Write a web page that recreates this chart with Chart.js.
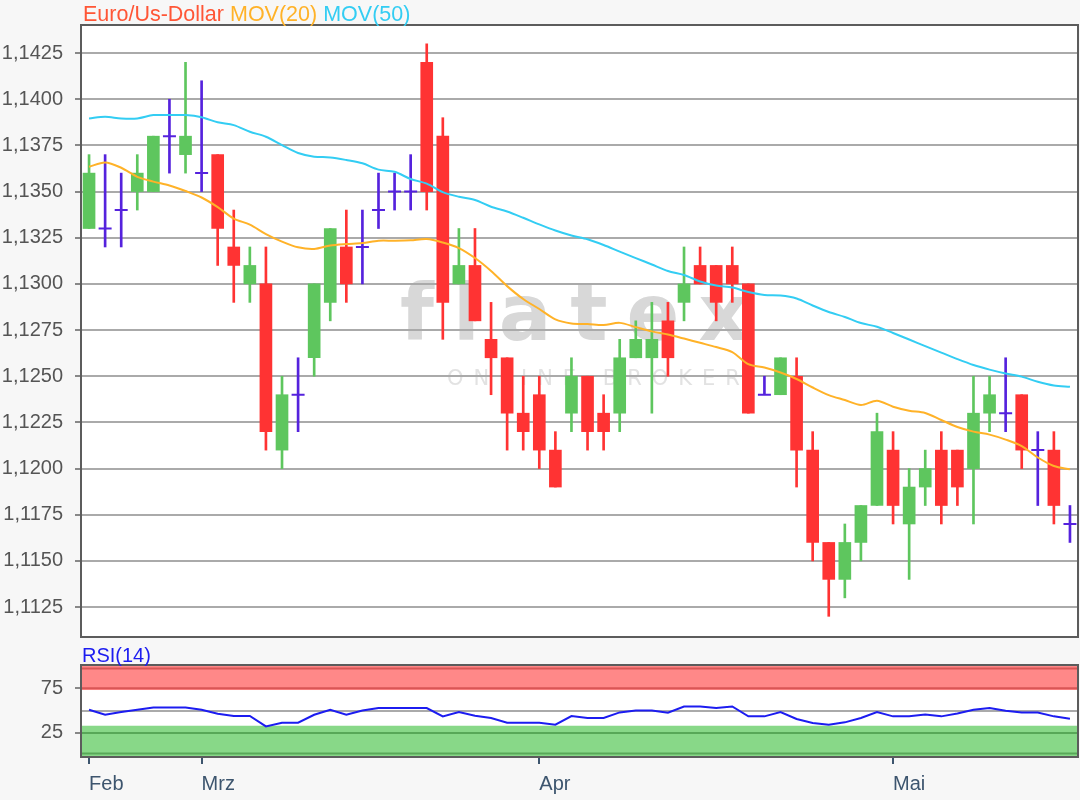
<!DOCTYPE html>
<html>
<head>
<meta charset="utf-8">
<script src="https://cdn.jsdelivr.net/npm/chart.js@4"></script>
<style>
  body { margin: 0; background: #f7f7f7; font-family: 'Liberation Sans', Arial, sans-serif; }
  #wrap { position: relative; width: 1080px; height: 800px; overflow: hidden; }
  #main { position: absolute; left: 0; top: 0; }
  #rsi { position: absolute; left: 0; top: 645px; }
  #title { position: absolute; left: 83px; top: 2px; font-size: 21.5px; line-height: 24px; white-space: nowrap; }
  #rsiTitle { position: absolute; left: 82px; top: 643px; font-size: 20px; line-height: 24px; color: #1c1cf0; }
</style>
</head>
<body>
<div id="wrap">
  <canvas id="main" width="1080" height="640"></canvas>
  <canvas id="rsi" width="1080" height="155"></canvas>
  <div id="title"><span style="color:#ff5636">Euro/Us-Dollar</span> <span style="color:#ffb228">MOV(20)</span> <span style="color:#33cdf3">MOV(50)</span></div>
  <div id="rsiTitle">RSI(14)</div>
</div>
<script>
// trading days, 20.02.2019 - 16.05.2019
const days = [
  "20.02.","21.02.","22.02.","25.02.","26.02.","27.02.","28.02.",
  "01.03.","04.03.","05.03.","06.03.","07.03.","08.03.","11.03.","12.03.","13.03.","14.03.","15.03.",
  "18.03.","19.03.","20.03.","21.03.","22.03.","25.03.","26.03.","27.03.","28.03.","29.03.",
  "01.04.","02.04.","03.04.","04.04.","05.04.","08.04.","09.04.","10.04.","11.04.","12.04.",
  "15.04.","16.04.","17.04.","18.04.","19.04.","22.04.","23.04.","24.04.","25.04.","26.04.","29.04.","30.04.",
  "01.05.","02.05.","03.05.","06.05.","07.05.","08.05.","09.05.","10.05.","13.05.","14.05.","15.05.","16.05."
];
const monthIdx = [0, 7, 28, 50];
const monthNames = ["Feb", "Mrz", "Apr", "Mai"];

const opens = [1.1330,1.1330,1.1340,1.1350,1.1350,1.1380,1.1370,1.1360,1.1370,1.1320,
  1.1300,1.1300,1.1210,1.1240,1.1260,1.1290,1.1320,1.1320,1.1340,1.1350,
  1.1350,1.1420,1.1380,1.1300,1.1310,1.1270,1.1260,1.1230,1.1240,1.1210,
  1.1230,1.1250,1.1230,1.1230,1.1260,1.1260,1.1280,1.1290,1.1310,1.1310,
  1.1310,1.1300,1.1240,1.1240,1.1250,1.1210,1.1160,1.1140,1.1160,1.1180,
  1.1210,1.1170,1.1190,1.1210,1.1210,1.1200,1.1230,1.1230,1.1240,1.1210,
  1.1210,1.1170];
const highs = [1.1370,1.1370,1.1360,1.1370,1.1380,1.1400,1.1420,1.1410,1.1370,1.1340,
  1.1320,1.1320,1.1250,1.1260,1.1300,1.1330,1.1340,1.1340,1.1360,1.1360,
  1.1370,1.1430,1.1390,1.1330,1.1330,1.1290,1.1260,1.1250,1.1250,1.1220,
  1.1260,1.1250,1.1240,1.1270,1.1280,1.1290,1.1290,1.1320,1.1320,1.1310,
  1.1320,1.1300,1.1250,1.1260,1.1260,1.1220,1.1160,1.1170,1.1180,1.1230,
  1.1220,1.1200,1.1210,1.1220,1.1210,1.1250,1.1250,1.1260,1.1240,1.1220,
  1.1220,1.1180];
const lows = [1.1330,1.1320,1.1320,1.1340,1.1350,1.1360,1.1360,1.1350,1.1310,1.1290,
  1.1290,1.1210,1.1200,1.1220,1.1250,1.1280,1.1290,1.1300,1.1330,1.1340,
  1.1340,1.1340,1.1270,1.1300,1.1280,1.1240,1.1210,1.1210,1.1200,1.1190,
  1.1220,1.1210,1.1210,1.1220,1.1260,1.1230,1.1250,1.1280,1.1300,1.1280,
  1.1290,1.1230,1.1240,1.1240,1.1190,1.1150,1.1120,1.1130,1.1150,1.1180,
  1.1170,1.1140,1.1180,1.1170,1.1180,1.1170,1.1220,1.1220,1.1200,1.1180,
  1.1170,1.1160];
const closes = [1.1360,1.1330,1.1340,1.1360,1.1380,1.1380,1.1380,1.1360,1.1330,1.1310,
  1.1310,1.1220,1.1240,1.1240,1.1300,1.1330,1.1300,1.1320,1.1340,1.1350,
  1.1350,1.1350,1.1290,1.1310,1.1280,1.1260,1.1230,1.1220,1.1210,1.1190,
  1.1250,1.1220,1.1220,1.1260,1.1270,1.1270,1.1260,1.1300,1.1300,1.1290,
  1.1300,1.1230,1.1240,1.1260,1.1210,1.1160,1.1140,1.1160,1.1180,1.1220,
  1.1180,1.1190,1.1200,1.1180,1.1190,1.1230,1.1240,1.1230,1.1210,1.1210,
  1.1180,1.1170];

const mov20 = [1.13634,1.13658,1.13629,1.13580,1.13554,1.13533,1.13503,1.13468,1.13416,1.13354,
  1.13321,1.13270,1.13229,1.13198,1.13189,1.13208,1.13216,1.13221,1.13234,1.13234,
  1.13236,1.13243,1.13224,1.13194,1.13140,1.13070,1.12988,1.12918,1.12864,1.12808,
  1.12786,1.12783,1.12777,1.12789,1.12766,1.12743,1.12726,1.12704,1.12681,1.12658,
  1.12631,1.12566,1.12547,1.12520,1.12485,1.12439,1.12398,1.12371,1.12344,1.12367,
  1.12335,1.12313,1.12301,1.12263,1.12225,1.12200,1.12184,1.12157,1.12122,1.12060,
  1.12014,1.11996];
const mov50 = [1.13896,1.13905,1.13896,1.13896,1.13914,1.13914,1.13914,1.13902,1.13875,1.13860,
  1.13824,1.13797,1.13752,1.13709,1.13689,1.13685,1.13671,1.13653,1.13619,1.13607,
  1.13568,1.13543,1.13497,1.13472,1.13454,1.13418,1.13392,1.13358,1.13322,1.13289,
  1.13262,1.13242,1.13211,1.13175,1.13140,1.13105,1.13070,1.13048,1.13013,1.12991,
  1.12980,1.12956,1.12940,1.12937,1.12921,1.12883,1.12848,1.12821,1.12788,1.12768,
  1.12734,1.12699,1.12663,1.12628,1.12593,1.12561,1.12536,1.12515,1.12498,1.12470,
  1.12450,1.12443];

const rsi14 = [50.9,45.3,48.3,50.9,53.5,53.5,53.5,50.9,46.4,43.9,
  43.9,32.3,36.4,36.4,45.3,50.9,45.3,50.1,52.8,52.8,
  52.8,52.8,43.5,48.3,44.2,41.7,36.4,36.4,36.4,34.2,
  43.9,41.7,41.7,47.9,50.1,50.1,47.6,54.6,54.6,52.8,
  54.6,43.5,43.5,48.3,40.6,36.1,34.2,36.8,41.7,48.3,
  43.5,43.5,45.7,43.5,46.8,50.9,52.8,49.8,47.9,47.9,
  43.5,40.9];

const priceTicks = [1.1125,1.1150,1.1175,1.1200,1.1225,1.1250,1.1275,1.1300,1.1325,1.1350,1.1375,1.1400,1.1425];
const rsiTicks = [25, 50, 75];

const GREEN = '#5ec65e', RED = '#ff3333', DOJI = '#5522dd';
const colorOf = i => closes[i] > opens[i] ? GREEN : (closes[i] < opens[i] ? RED : DOJI);
const candleColors = days.map((d, i) => colorOf(i));

Chart.defaults.font.family = "'Liberation Sans', Arial, sans-serif";
Chart.defaults.font.size = 20;
Chart.defaults.animation = false;

// keep the chart area where we put it: no extra room for edge labels
const noPad = s => { s.paddingTop = 0; s.paddingBottom = 0; s.paddingLeft = 0; s.paddingRight = 0; };

const frame = {
  id: 'frame',
  beforeDraw(chart) {
    const {ctx, chartArea: a} = chart;
    ctx.save();
    ctx.fillStyle = '#ffffff';
    ctx.fillRect(a.left, a.top, a.right - a.left, a.bottom - a.top);
    const wm = chart.options.plugins.frame.watermark;
    if (wm) {
      ctx.fillStyle = '#d8d8d8';
      ctx.font = "bold 78px 'DejaVu Sans', sans-serif";
      ctx.letterSpacing = '19px';
      ctx.textBaseline = 'alphabetic';
      ctx.fillText('flatex', 400, 340);
      ctx.fillStyle = '#e2e2e2';
      ctx.font = "21px 'DejaVu Sans', sans-serif";
      ctx.letterSpacing = '10px';
      ctx.fillText('ONLINE BROKER', 447, 385);
    }
    ctx.restore();
  },
  afterDraw(chart) {
    const {ctx, chartArea: a} = chart;
    ctx.save();
    ctx.strokeStyle = '#5c5c5c';
    ctx.lineWidth = 2;
    ctx.strokeRect(a.left, a.top, a.right - a.left, a.bottom - a.top);
    ctx.restore();
  }
};

new Chart(document.getElementById('main'), {
  type: 'bar',
  data: {
    labels: days,
    datasets: [
      { type: 'line', label: 'MOV(50)', data: mov50, borderColor: '#33cdf3', borderWidth: 2, pointRadius: 0, tension: 0.3, order: 0 },
      { type: 'line', label: 'MOV(20)', data: mov20, borderColor: '#ffb228', borderWidth: 2, pointRadius: 0, tension: 0.3, order: 1 },
      { type: 'line', label: 'doji', data: closes.map((c, i) => c === opens[i] ? c : null),
        showLine: false, pointStyle: 'line', pointRadius: 6.5, pointBorderWidth: 2,
        pointBorderColor: DOJI, borderColor: DOJI, order: 2 },
      { label: 'body', data: opens.map((o, i) => o === closes[i] ? null : [o, closes[i]]),
        backgroundColor: candleColors, barThickness: 12, grouped: false, order: 3 },
      { label: 'wick', data: lows.map((l, i) => [l, highs[i]]),
        backgroundColor: candleColors, barThickness: 2, grouped: false, order: 4 }
    ]
  },
  options: {
    responsive: false,
    layout: { autoPadding: false, padding: { top: 25, right: 2, bottom: 3, left: 0 } },
    plugins: { legend: { display: false }, tooltip: { enabled: false }, frame: { watermark: true } },
    scales: {
      x: { display: false, offset: true, ticks: { display: false }, afterFit: noPad },
      y: {
        min: 1.11088, max: 1.14402,
        afterBuildTicks: s => { s.ticks = priceTicks.map(v => ({ value: v })); },
        afterFit: s => { s.width = 81; noPad(s); },
        ticks: { callback: v => v.toFixed(4).replace('.', ','), color: '#555555', padding: 12 },
        grid: { color: '#aaaaaa', lineWidth: 2, tickLength: 6, tickColor: '#888888' },
        border: { display: false }
      }
    }
  },
  plugins: [frame]
});

const bands = {
  id: 'bands',
  beforeDatasetsDraw(chart) {
    const {ctx, chartArea: a, scales: {y}} = chart;
    ctx.save();
    ctx.beginPath();
    ctx.rect(a.left, a.top, a.right - a.left, a.bottom - a.top);
    ctx.clip();
    const list = [
      { from: 73, to: 110, fill: '#ff8888', line: '#d95656', lines: [97, 75] },
      { from: -10, to: 33, fill: '#88d888', line: '#58a858', lines: [25, 2] }
    ];
    list.forEach(b => {
      const y1 = y.getPixelForValue(b.to), y2 = y.getPixelForValue(b.from);
      ctx.fillStyle = b.fill;
      ctx.fillRect(a.left, y1, a.right - a.left, y2 - y1);
      ctx.strokeStyle = b.line;
      ctx.lineWidth = 2;
      b.lines.forEach(v => {
        const py = y.getPixelForValue(v);
        ctx.beginPath();
        ctx.moveTo(a.left, py);
        ctx.lineTo(a.right, py);
        ctx.stroke();
      });
    });
    ctx.restore();
  }
};

new Chart(document.getElementById('rsi'), {
  type: 'line',
  data: {
    labels: days,
    datasets: [
      { label: 'RSI(14)', data: rsi14, borderColor: '#1c1cf0', borderWidth: 2, pointRadius: 0, tension: 0 }
    ]
  },
  options: {
    responsive: false,
    layout: { autoPadding: false, padding: { top: 20, right: 2, bottom: 0, left: 0 } },
    plugins: { legend: { display: false }, tooltip: { enabled: false }, frame: { watermark: false } },
    scales: {
      x: {
        offset: true,
        afterBuildTicks: s => { s.ticks = monthIdx.map(i => ({ value: i })); },
        afterFit: s => { s.height = 43; noPad(s); },
        ticks: { callback: (v, k) => monthNames[k], align: 'start', maxRotation: 0, autoSkip: false, color: '#3d556e', padding: 8 },
        grid: { drawOnChartArea: false, tickLength: 7, tickColor: '#3d556e', lineWidth: 2 },
        border: { display: false }
      },
      y: {
        min: -2, max: 101,
        afterBuildTicks: s => { s.ticks = rsiTicks.map(v => ({ value: v })); },
        afterFit: s => { s.width = 81; noPad(s); },
        ticks: { callback: v => v === 50 ? '' : String(v), color: '#555555', padding: 12 },
        grid: {
          color: c => (c.tick && c.tick.value === 50) ? '#aaaaaa' : 'rgba(0,0,0,0)',
          tickColor: c => (c.tick && c.tick.value === 50) ? 'rgba(0,0,0,0)' : '#888888',
          lineWidth: 2, tickLength: 6
        },
        border: { display: false }
      }
    }
  },
  plugins: [frame, bands]
});
</script>
</body>
</html>
